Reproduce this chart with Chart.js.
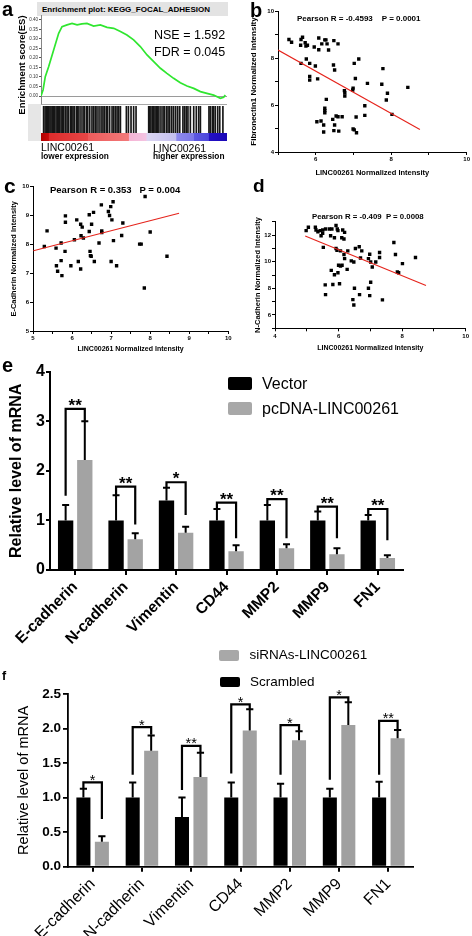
<!DOCTYPE html>
<html><head><meta charset="utf-8">
<script src="https://cdn.jsdelivr.net/npm/chart.js@4"></script>
<style>
html,body{margin:0;padding:0;background:#fff;}
#page{position:relative;width:472px;height:936px;overflow:hidden;font-family:"Liberation Sans",Arial,sans-serif;background:#fff;}
canvas{position:absolute;}
.t{position:absolute;white-space:pre;line-height:1;transform:translateY(-50%);color:#000;}
.r{position:absolute;white-space:pre;line-height:1;transform:translate(-50%,-50%) rotate(-90deg);color:#000;}
.sq{position:absolute;}
</style></head><body><div id="page"></div>
<script>
// ---------- DATA ----------
// Panel a: GSEA running enrichment score (rank % , ES)
const esRank = [0,1.1,2.3,4.1,6.8,9.5,11.3,14.0,16.7,19.4,22.0,24.7,28.3,31.9,35.5,39.1,42.7,46.2,49.8,53.4,57.0,60.6,64.2,67.7,71.3,74.9,78.5,82.1,85.7,89.2,92.8,96.4,98.2,99.1];
const esScore = [0.00,0.032,0.102,0.154,0.242,0.330,0.365,0.374,0.382,0.374,0.379,0.382,0.368,0.374,0.361,0.356,0.339,0.321,0.295,0.260,0.216,0.181,0.146,0.119,0.093,0.070,0.053,0.040,0.023,0.014,0.005,-0.012,-0.007,0.005];
const hitRank = [1.4,2.2,2.9,3.4,4.1,4.8,5.4,6.1,6.8,7.3,8.1,8.8,9.3,10.0,10.8,11.5,12.2,13.1,14.0,14.7,15.8,16.5,17.2,17.9,19.0,19.7,20.4,21.5,22.6,23.3,24.4,25.1,26.2,27.4,28.3,29.2,30.1,31.2,32.3,33.3,34.1,35.1,35.8,36.9,38.2,39.1,40.0,40.9,41.8,42.7,45.9,47.0,48.4,49.8,51.1,57.9,58.4,59.1,59.9,60.6,61.3,62.0,62.7,63.4,64.5,65.6,66.3,67.4,68.3,69.2,70.3,71.3,72.4,73.5,74.6,76.3,77.2,78.1,79.0,80.3,82.1,83.5,84.8,85.7,90.3,91.0,92.1,92.8,93.7,95.0,96.1,97.8];
const esTicks = [0,0.05,0.10,0.15,0.20,0.25,0.30,0.35,0.40];

// Panel b: Fibronectin1 vs LINC00261
const bX = [5.29,5.36,5.61,5.65,5.60,5.72,5.74,5.78,5.61,5.75,5.84,5.99,5.84,5.84,6.05,5.96,6.08,6.08,6.16,6.24,6.27,6.34,6.30,6.48,6.59,6.47,6.50,6.28,6.24,6.24,6.24,6.03,6.14,6.21,6.21,6.45,6.50,6.54,6.59,6.70,6.48,6.61,6.76,6.77,6.77,6.99,6.98,7.02,7.05,7.14,7.37,7.07,6.99,7.02,7.08,7.30,7.30,7.78,7.75,7.90,7.87,8.02,8.44];
const bY = [8.79,8.67,8.79,8.88,8.54,8.65,8.51,8.54,7.77,7.96,7.77,7.66,7.21,7.06,7.11,8.47,8.85,8.35,8.60,8.77,8.77,8.34,8.60,8.74,8.60,7.70,7.49,6.24,5.86,5.76,5.67,5.29,5.32,5.15,4.85,5.39,5.15,5.53,5.50,5.50,4.91,4.89,6.61,6.52,6.38,6.72,6.64,7.77,7.13,7.96,6.92,5.49,4.98,4.94,4.82,5.56,5.97,7.55,6.88,6.50,6.21,5.60,6.75];
const bFitX = [5.0, 8.76];
const bFitY = [8.34, 4.96];

// Panel c: E-Cadherin vs LINC00261
const cX = [5.29,5.36,5.59,5.60,5.63,5.72,5.72,5.74,5.83,5.83,5.82,5.97,6.06,6.12,6.16,6.22,6.23,6.22,6.26,6.29,6.44,6.44,6.46,6.47,6.49,6.50,6.55,6.57,6.69,6.75,6.76,6.76,6.93,6.96,6.99,7.02,7.05,7.00,7.06,7.14,7.27,7.30,7.73,7.77,7.87,7.85,8.00,8.43];
const cY = [7.93,8.47,7.87,7.26,7.07,8.05,7.44,6.92,8.99,8.77,7.76,7.26,8.16,8.85,7.41,8.70,8.30,7.15,8.60,8.22,9.03,8.45,7.76,7.61,7.59,8.70,9.11,7.41,8.05,9.37,8.47,8.41,9.14,9.00,9.31,8.85,9.48,7.41,8.13,7.26,8.31,8.74,8.01,8.01,9.66,6.49,8.43,7.59];
const cFitX = [5.01, 8.74];
const cFitY = [7.78, 9.08];

// Panel d: N-Cadherin vs LINC00261
const dX = [4.98,5.05,5.27,5.29,5.35,5.42,5.45,5.50,5.50,5.59,5.71,5.75,5.79,5.92,5.96,5.98,5.87,6.10,6.13,6.19,5.52,5.92,5.95,6.06,6.17,6.19,6.17,6.00,6.06,6.11,6.29,6.40,6.48,6.53,6.65,6.69,6.73,6.94,6.98,7.01,7.06,7.17,7.29,7.29,7.74,7.79,7.85,7.89,8.01,8.42,5.77,5.87,5.98,6.27,5.82,6.03,5.58,5.59,6.50,6.66,6.94,7.01,6.98,6.45,6.48,7.38];
const dY = [12.33,12.58,12.58,12.38,12.25,12.33,11.95,12.13,12.38,12.45,12.45,11.95,12.45,12.71,12.45,12.33,11.80,11.80,12.38,12.20,11.07,10.99,10.86,10.81,11.70,10.23,10.54,9.73,9.68,9.73,10.81,10.06,9.98,10.99,11.12,10.28,10.81,10.23,10.56,9.98,9.60,9.98,10.69,10.31,11.44,10.54,9.22,9.17,9.85,10.31,9.35,9.02,9.17,9.42,8.29,8.34,8.26,7.53,8.01,7.53,8.01,8.46,7.45,7.15,6.75,7.13];
const dFitX = [4.95, 8.75];
const dFitY = [11.92, 8.21];

// Panel e: overexpression
const eCats = ['E-cadherin','N-cadherin','Vimentin','CD44','MMP2','MMP9','FN1'];
const eVector = [1.00,1.00,1.40,1.00,1.00,1.00,1.00];
const ePc = [2.22,0.62,0.75,0.38,0.44,0.32,0.24];
const eVectorErr = [1.31,1.51,1.66,1.23,1.31,1.18,1.11];
const ePcErr = [3.00,0.74,0.87,0.50,0.52,0.44,0.30];
const eBrLevel = [3.25,1.68,1.77,1.36,1.43,1.28,1.23];
const eBrLeft = [1.50,1.51,1.66,1.23,1.31,1.18,1.11];
const eBrRight = [3.00,0.92,1.11,0.64,0.64,0.64,0.60];
const eStars = ['**','**','*','**','**','**','**'];

// Panel f: knockdown
const fCats = ['E-cadherin','N-cadherin','Vimentin','CD44','MMP2','MMP9','FN1'];
const fScr = [1.00,1.00,0.72,1.00,1.00,1.00,1.00];
const fSi = [0.36,1.68,1.30,1.97,1.83,2.05,1.86];
const fScrErr = [1.13,1.22,1.00,1.22,1.20,1.13,1.23];
const fSiErr = [0.44,1.90,1.65,2.28,1.96,2.38,1.98];
const fBrLevel = [1.22,2.02,1.75,2.35,2.05,2.45,2.11];
const fBrLeft = [1.13,1.33,1.11,1.35,1.33,1.26,1.33];
const fBrRight = [0.69,1.91,1.65,2.28,1.96,2.38,1.98];
const fStars = ['*','*','**','*','*','*','**'];

// ---------- SETUP ----------
const FAM = "'Liberation Sans', Arial, sans-serif";
Chart.defaults.font.family = FAM;
Chart.defaults.color = '#000';
Chart.defaults.plugins.legend.display = false;
Chart.defaults.plugins.tooltip.enabled = false;
const page = document.getElementById('page');

function geo(L, T, R, B, p) {
  return {L, T, W: R - L, H: B - T, yW: p.l - L, xH: B - p.b, pt: p.t - T, pr: R - p.r};
}
function mount(g, cfg) {
  const c = document.createElement('canvas');
  c.width = g.W; c.height = g.H;
  c.style.left = g.L + 'px'; c.style.top = g.T + 'px';
  c.style.width = g.W + 'px'; c.style.height = g.H + 'px';
  page.appendChild(c);
  cfg.options = Object.assign({responsive: false, maintainAspectRatio: false, animation: false, devicePixelRatio: 1}, cfg.options);
  return new Chart(c.getContext('2d'), cfg);
}
const yFit = w => s => { s.width = w; s.paddingTop = 0; s.paddingBottom = 0; s.paddingLeft = 0; s.paddingRight = 0; };
const xFit = h => s => { s.height = h; s.paddingLeft = 0; s.paddingRight = 0; s.paddingTop = 0; s.paddingBottom = 0; };

function T(txt, x, y, css) {
  const d = document.createElement('div'); d.className = 't'; d.textContent = txt;
  d.style.left = x + 'px'; d.style.top = y + 'px'; d.style.cssText += css; page.appendChild(d); return d;
}
function R(txt, x, y, css) {
  const d = document.createElement('div'); d.className = 'r'; d.textContent = txt;
  d.style.left = x + 'px'; d.style.top = y + 'px'; d.style.cssText += css; page.appendChild(d); return d;
}
function SQ(x, y, w, h, col, extra) {
  const d = document.createElement('div'); d.className = 'sq';
  d.style.cssText = `left:${x}px;top:${y}px;width:${w}px;height:${h}px;background:${col};` + (extra || '');
  page.appendChild(d); return d;
}

// ---------- PANEL a ----------
SQ(37, 2, 191, 14, '#e3e3e3');
SQ(28, 104, 13, 37, '#e6e6e6');
SQ(41, 104, 186, 1, '#a8a8a8');

const gES = geo(27, 15, 228, 104, {l: 41, t: 15, r: 227, b: 104});
mount(gES, {
  type: 'line',
  data: {datasets: [{data: esRank.map((x, i) => ({x, y: esScore[i]})), borderColor: '#2fe62f', borderWidth: 1.7, pointRadius: 0, tension: 0, fill: false}]},
  options: {
    layout: {padding: {top: gES.pt, right: gES.pr, left: 0, bottom: 0}, autoPadding: false},
    scales: {
      x: {type: 'linear', min: 0, max: 100, display: false},
      y: {type: 'linear', min: -0.042, max: 0.426,
        afterBuildTicks: s => { s.ticks = esTicks.map(v => ({value: v})); },
        ticks: {font: {size: 4.5}, color: '#333', padding: 1, callback: v => v.toFixed(2)},
        grid: {color: c => (c.tick && Math.abs(c.tick.value) < 1e-9) ? '#9a9a9a' : 'rgba(0,0,0,0)', tickColor: '#555', tickLength: 2, lineWidth: 1},
        border: {color: '#666', width: 0.8},
        afterFit: yFit(gES.yW)}
    }
  }
});

const colorStops = [[0,'#b00000'],[0.04,'#c80a0a'],[0.045,'#dd2c2c'],[0.25,'#e84646'],[0.255,'#ee5c5c'],[0.47,'#f27a7a'],[0.475,'#f6b4d4'],[0.565,'#f3c4e2'],[0.57,'#dcd6f2'],[0.725,'#c4c0f0'],[0.73,'#8e8aee'],[0.82,'#7c77e8'],[0.825,'#5d58e0'],[0.90,'#4c47dc'],[0.905,'#2410c6'],[1,'#1a08b6']];
const colorBar = {id: 'colorbar', afterDraw(chart) {
  const {ctx, chartArea: a} = chart;
  const g = ctx.createLinearGradient(a.left, 0, a.right, 0);
  colorStops.forEach(s => g.addColorStop(s[0], s[1]));
  ctx.save(); ctx.fillStyle = g; ctx.fillRect(a.left, a.bottom, a.right - a.left, 8); ctx.restore();
}};
const gBC = geo(41, 106, 227, 141, {l: 41, t: 106, r: 227, b: 133});
mount(gBC, {
  type: 'bar',
  data: {datasets: [{data: hitRank.map(x => ({x, y: 1})), backgroundColor: '#161616', barThickness: 1, borderWidth: 0}]},
  options: {
    layout: {padding: {top: 0, right: 0, left: 0, bottom: gBC.xH}, autoPadding: false},
    scales: {x: {type: 'linear', min: 0, max: 100, display: false, offset: false}, y: {min: 0, max: 1, display: false}}
  },
  plugins: [colorBar]
});

// ---------- SCATTERS ----------
function axis(o) {
  return {
    type: 'linear', min: o.min, max: o.max,
    ticks: {stepSize: o.step, font: {size: 6, weight: 'bold'}, padding: o.tp, color: '#000', autoSkip: false, maxRotation: 0, callback: o.cb},
    grid: {drawOnChartArea: false, color: '#000', tickLength: 3, lineWidth: 1},
    border: {color: '#000', width: 1},
    title: {display: true, text: o.title, font: {size: o.ts, weight: 'bold'}, padding: 0, color: '#000'},
    afterFit: o.fit
  };
}
const even = v => (Math.abs(Math.round(v) - v) < 1e-6 && Math.round(v) % 2 === 0) ? String(Math.round(v)) : '';
const whole = v => (Math.abs(Math.round(v) - v) < 1e-6) ? String(Math.round(v)) : '';
function scatter(g, xs, ys, fx, fy, xa, ya) {
  mount(g, {
    type: 'scatter',
    data: {datasets: [
      {data: fx.map((x, i) => ({x, y: fy[i]})), showLine: true, borderColor: '#e5231b', borderWidth: 1.1, pointRadius: 0, order: 0},
      {data: xs.map((x, i) => ({x, y: ys[i]})), pointStyle: 'rect', pointRadius: 2.4, backgroundColor: '#000', borderWidth: 0, order: 1}
    ]},
    options: {
      layout: {padding: {top: g.pt, right: g.pr, left: 0, bottom: 0}, autoPadding: false},
      scales: {x: axis(Object.assign(xa, {fit: xFit(g.xH)})), y: axis(Object.assign(ya, {fit: yFit(g.yW)}))}
    }
  });
}
const gB = geo(249, 6, 472, 177, {l: 278, t: 11, r: 466.7, b: 152});
scatter(gB, bX, bY, bFitX, bFitY,
  {min: 5, max: 10, step: 1, tp: 1, cb: even, title: 'LINC00261 Normalized Intensity', ts: 7.5},
  {min: 4, max: 10, step: 1, tp: 1, cb: even, title: 'Fibronectin1 Normalized Intensity', ts: 8});
const gC = geo(9, 181, 236, 353, {l: 33, t: 186.7, r: 228.3, b: 331});
scatter(gC, cX, cY, cFitX, cFitY,
  {min: 5, max: 10, step: 0.5, tp: 1, cb: whole, title: 'LINC00261 Normalized Intensity', ts: 7},
  {min: 5, max: 10, step: 1, tp: 1, cb: whole, title: 'E-Cadherin Normalized Intensity', ts: 7.5});
const gD = geo(253, 216, 472, 352, {l: 275, t: 221.7, r: 465.7, b: 328.3});
scatter(gD, dX, dY, dFitX, dFitY,
  {min: 4, max: 10, step: 1, tp: 1, cb: even, title: 'LINC00261 Normalized Intensity', ts: 7},
  {min: 5, max: 13, step: 1, tp: 1, cb: even, title: 'N-Cadherin Normalized Intensity', ts: 7.5});

// ---------- BAR PANELS ----------
function makeErr(errs, cap, lw) {
  return {id: 'errbars', afterDatasetsDraw(chart) {
    const ctx = chart.ctx, y = chart.scales.y;
    ctx.save(); ctx.strokeStyle = '#000'; ctx.lineWidth = lw; ctx.lineCap = 'butt';
    errs.forEach((arr, di) => {
      chart.getDatasetMeta(di).data.forEach((bar, i) => {
        const yt = y.getPixelForValue(arr[i]);
        ctx.beginPath(); ctx.moveTo(bar.x, bar.y); ctx.lineTo(bar.x, yt);
        ctx.moveTo(bar.x - cap, yt); ctx.lineTo(bar.x + cap, yt); ctx.stroke();
      });
    });
    ctx.restore();
  }};
}
function makeBrackets(lv, lf, rt, st, font, lw, dy) {
  return {id: 'brackets', afterDatasetsDraw(chart) {
    const ctx = chart.ctx, y = chart.scales.y;
    const m0 = chart.getDatasetMeta(0).data, m1 = chart.getDatasetMeta(1).data;
    ctx.save(); ctx.strokeStyle = '#000'; ctx.lineWidth = lw; ctx.lineJoin = 'miter'; ctx.lineCap = 'butt';
    ctx.font = font; ctx.fillStyle = '#000'; ctx.textAlign = 'center'; ctx.textBaseline = 'alphabetic';
    lv.forEach((v, i) => {
      const xl = m0[i].x, xr = m1[i].x, yl = y.getPixelForValue(v);
      ctx.beginPath(); ctx.moveTo(xl, y.getPixelForValue(lf[i])); ctx.lineTo(xl, yl); ctx.lineTo(xr, yl); ctx.lineTo(xr, y.getPixelForValue(rt[i])); ctx.stroke();
      ctx.fillText(st[i], (xl + xr) / 2, yl + dy);
    });
    ctx.restore();
  }};
}

const gE = geo(7, 359, 420, 650, {l: 50, t: 371.7, r: 403, b: 570});
mount(gE, {
  type: 'bar',
  data: {labels: eCats, datasets: [
    {label: 'Vector', data: eVector, backgroundColor: '#000', categoryPercentage: 0.76, barPercentage: 0.8},
    {label: 'pcDNA-LINC00261', data: ePc, backgroundColor: '#a3a3a3', categoryPercentage: 0.76, barPercentage: 0.8}
  ]},
  options: {
    layout: {padding: {top: gE.pt, right: gE.pr, left: 0, bottom: 0}, autoPadding: false},
    scales: {
      x: {ticks: {font: {size: 15.5, weight: 'bold'}, minRotation: 45, maxRotation: 45, padding: 3, autoSkip: false, color: '#000'},
          grid: {offset: false, drawOnChartArea: false, color: '#000', tickLength: 5, lineWidth: 2},
          border: {color: '#000', width: 2}, afterFit: xFit(gE.xH)},
      y: {min: 0, max: 4, ticks: {stepSize: 1, font: {size: 16, weight: 'bold'}, padding: 1, color: '#000'},
          grid: {drawOnChartArea: false, color: '#000', tickLength: 4, lineWidth: 2},
          border: {color: '#000', width: 2},
          title: {display: true, text: 'Relative level of mRNA', font: {size: 16, weight: 'bold'}, padding: 0, color: '#000'},
          afterFit: yFit(gE.yW)}
    }
  },
  plugins: [makeErr([eVectorErr, ePcErr], 3.5, 2), makeBrackets(eBrLevel, eBrLeft, eBrRight, eStars, "bold 17px " + FAM, 2.2, 2)]
});

const gF = geo(15, 682, 430, 936, {l: 68, t: 694, r: 413, b: 866.7});
mount(gF, {
  type: 'bar',
  data: {labels: fCats, datasets: [
    {label: 'Scrambled', data: fScr, backgroundColor: '#000', categoryPercentage: 0.75, barPercentage: 0.76},
    {label: 'siRNAs-LINC00261', data: fSi, backgroundColor: '#a0a0a0', categoryPercentage: 0.75, barPercentage: 0.76}
  ]},
  options: {
    layout: {padding: {top: gF.pt, right: gF.pr, left: 0, bottom: 0}, autoPadding: false},
    scales: {
      x: {ticks: {font: {size: 16}, minRotation: 45, maxRotation: 45, padding: 3, autoSkip: false, color: '#000'},
          grid: {offset: false, drawOnChartArea: false, color: '#000', tickLength: 5, lineWidth: 2},
          border: {color: '#000', width: 1.8}, afterFit: xFit(gF.xH)},
      y: {min: 0, max: 2.5, ticks: {stepSize: 0.5, font: {size: 13.5, weight: 'bold'}, padding: 2, color: '#000', callback: v => v.toFixed(1)},
          grid: {drawOnChartArea: false, color: '#000', tickLength: 5, lineWidth: 1.8},
          border: {color: '#000', width: 1.8},
          title: {display: true, text: 'Relative level of mRNA', font: {size: 14.5}, padding: 0, color: '#000'},
          afterFit: yFit(gF.yW)}
    }
  },
  plugins: [makeErr([fScrErr, fSiErr], 3.6, 2), makeBrackets(fBrLevel, fBrLeft, fBrRight, fStars, "14.5px " + FAM, 2.2, 2.5)]
});

// ---------- TEXT ----------
T('Enrichment plot: KEGG_FOCAL_ADHESION', 42, 10, 'font-size:8px;font-weight:bold;');
R('Enrichment score(ES)', 22, 65, 'font-size:9.5px;font-weight:bold;');
T('NSE = 1.592', 154, 34.5, 'font-size:12.5px;');
T('FDR = 0.045', 154, 52, 'font-size:12.5px;');
T('LINC00261', 41, 147, 'font-size:10.5px;');
T('lower expression', 41, 155.5, 'font-size:8.3px;font-weight:bold;');
T('LINC00261', 153, 147.8, 'font-size:10.5px;');
T('higher expression', 153, 156.3, 'font-size:8.3px;font-weight:bold;');

T('Pearson R = -0.4593    P = 0.0001', 297, 18.7, 'font-size:8px;font-weight:bold;');
T('Pearson R = 0.353   P = 0.004', 50, 189.7, 'font-size:9.5px;font-weight:bold;');
T('Pearson R = -0.409  P = 0.0008', 312, 217.2, 'font-size:7.8px;font-weight:bold;');

SQ(228, 377, 24, 13, '#000', 'border-radius:2px;');
SQ(228, 402, 24, 13, '#a8a8a8', 'border-radius:2px;');
T('Vector', 262, 383.5, 'font-size:16px;');
T('pcDNA-LINC00261', 262, 408.5, 'font-size:16px;');

SQ(219, 650, 20, 11, '#a8a8a8', 'border-radius:2px;');
SQ(220, 677, 20, 10, '#000', 'border-radius:2px;');
T('siRNAs-LINC00261', 249.5, 655.3, 'font-size:13.5px;');
T('Scrambled', 250, 682, 'font-size:13.5px;');

T('a', 2, 8.5, 'font-size:20px;font-weight:bold;');
T('b', 250, 10, 'font-size:20px;font-weight:bold;');
T('c', 4, 184.5, 'font-size:21px;font-weight:bold;');
T('d', 253, 184.5, 'font-size:19px;font-weight:bold;');
T('e', 2, 364.5, 'font-size:20px;font-weight:bold;');
T('f', 2, 676, 'font-size:12.5px;font-weight:bold;');
</script>
</body></html>
